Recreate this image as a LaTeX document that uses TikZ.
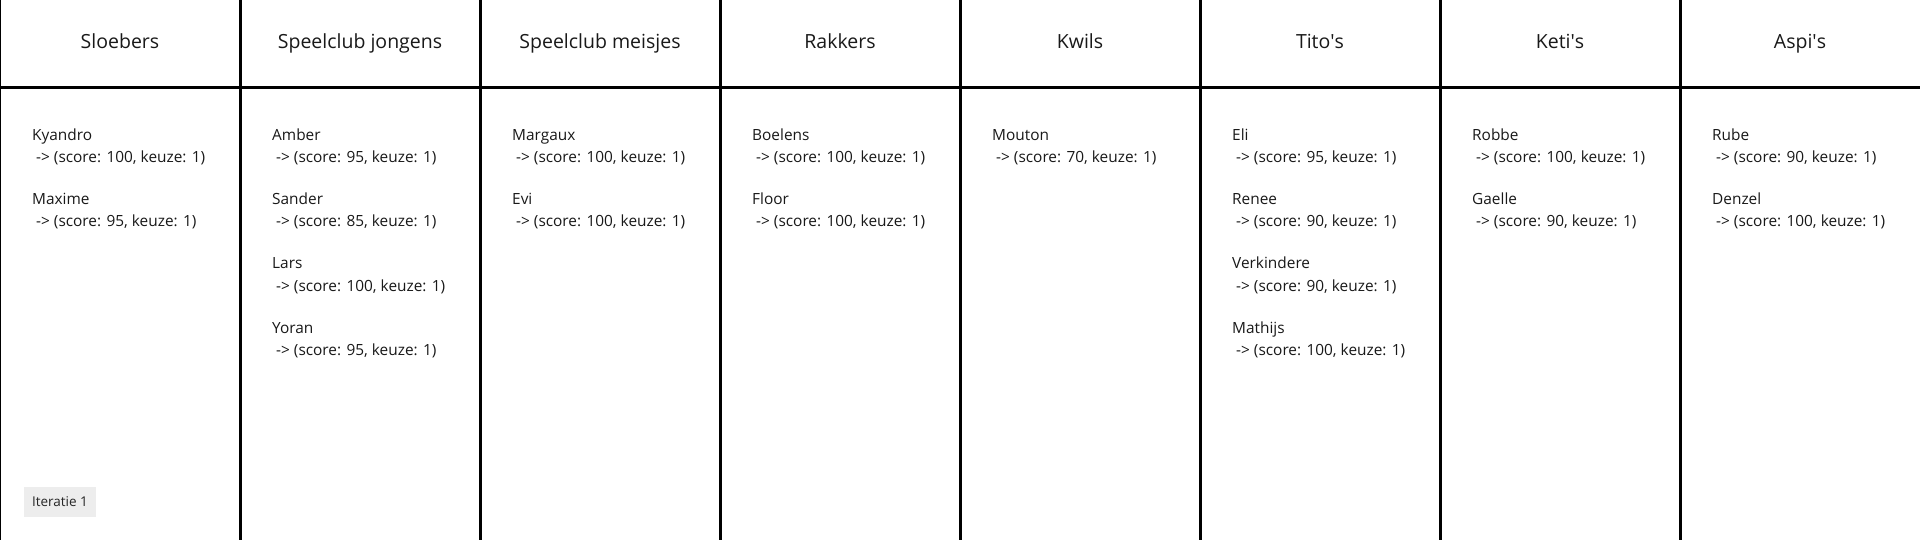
\documentclass[tikz,border=0pt]{standalone}
\usepackage{fontspec}
\setmainfont{Open Sans}
\begin{document}
\begin{tikzpicture}[x=1pt,y=-1pt,
  grid/.style={line width=3pt,black},
  head/.style={anchor=base,inner sep=0pt,font=\fontsize{19.5}{22}\selectfont,text=black!90},
  entry/.style={anchor=base west,inner sep=0pt,font=\fontsize{15.4}{18}\selectfont,text=black!90},
  badge/.style={fill=black!7,minimum width=72pt,minimum height=30pt,inner sep=0pt,font=\fontsize{13.5}{15}\selectfont,text=black!85}]
\useasboundingbox (0,0) rectangle (1920,540);
\fill[white] (0,0) rectangle (1920,540);
% grid
\coordinate (hl) at (0,88);
\coordinate (hr) at (1920,88);
\draw[grid] (hl) -- (hr);
\draw[line width=2pt] (0,0) -- (0,540);
\foreach \i in {1,...,7}{
  \coordinate (t\i) at (240*\i,0);
  \coordinate (b\i) at (240*\i,540);
  \draw[grid] (t\i) -- (b\i);
}
% headers
\foreach \t [count=\i from 0] in {Sloebers,Speelclub jongens,Speelclub meisjes,Rakkers,Kwils,Tito\textquotesingle s,Keti\textquotesingle s,Aspi\textquotesingle s}{
  \node[head] (h\i) at (240*\i+120,48.5) {\t};
}
% entries
\newcommand{\ent}[5]{% col, row, id, name, score
  \node[entry] (n#3) at (240*#1+32,141+64*#2) {#4};
  \node[entry] (s#3) at (240*#1+36,163+64*#2) {-> (score: #5, keuze: 1)};
}
\ent{0}{0}{a}{Kyandro}{100}
\ent{0}{1}{b}{Maxime}{95}
\ent{1}{0}{c}{Amber}{95}
\ent{1}{1}{d}{Sander}{85}
\ent{1}{2}{e}{Lars}{100}
\ent{1}{3}{f}{Yoran}{95}
\ent{2}{0}{g}{Margaux}{100}
\ent{2}{1}{h}{Evi}{100}
\ent{3}{0}{i}{Boelens}{100}
\ent{3}{1}{j}{Floor}{100}
\ent{4}{0}{k}{Mouton}{70}
\ent{5}{0}{l}{Eli}{95}
\ent{5}{1}{m}{Renee}{90}
\ent{5}{2}{n}{Verkindere}{90}
\ent{5}{3}{o}{Mathijs}{100}
\ent{6}{0}{p}{Robbe}{100}
\ent{6}{1}{q}{Gaelle}{90}
\ent{7}{0}{r}{Rube}{90}
\ent{7}{1}{s}{Denzel}{100}
\node[badge] (it) at (60,502) {Iteratie 1};
\end{tikzpicture}
\end{document}
